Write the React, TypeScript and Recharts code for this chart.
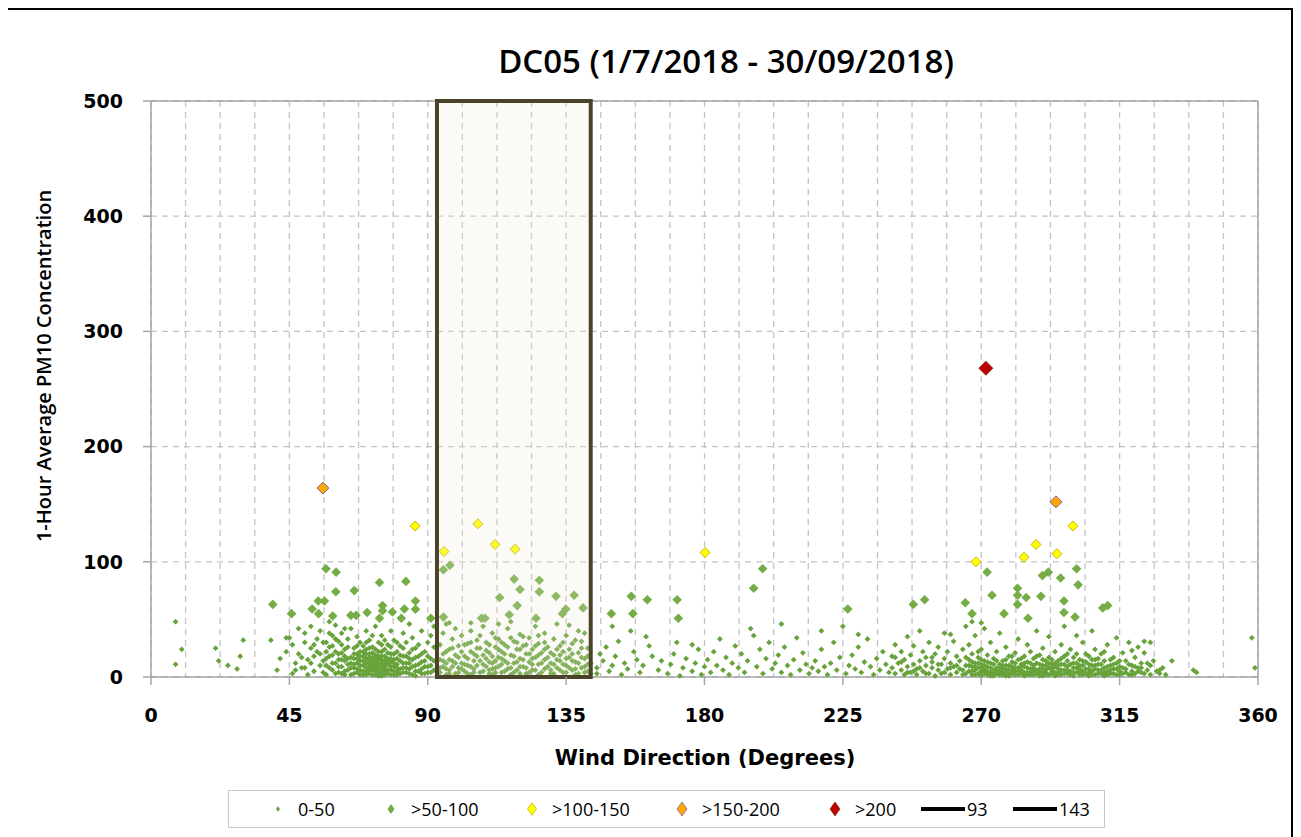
import {
  ScatterChart,
  Scatter,
  XAxis,
  YAxis,
  CartesianGrid,
  ReferenceArea,
  ReferenceLine,
} from "recharts";

// tick values (every 11.25 deg gets a grid line, every 45 deg a label)
const xTicks = [
  0, 11.25, 22.5, 33.75, 45, 56.25, 67.5, 78.75, 90, 101.25, 112.5, 123.75,
  135, 146.25, 157.5, 168.75, 180, 191.25, 202.5, 213.75, 225, 236.25, 247.5,
  258.75, 270, 281.25, 292.5, 303.75, 315, 326.25, 337.5, 348.75, 360,
];
const xLabelled = [0, 45, 90, 135, 180, 225, 270, 315, 360];
const yTicks = [0, 100, 200, 300, 400, 500];
const boxFrom = 93;
const boxTo = 143;

// [wind direction, PM10]
const low = [
  [8, 48], [10, 24], [8, 11], [21, 25], [22, 14], [25, 10], [28, 7], [29, 18], [30, 32], [39, 32], [41, 6], [44, 34], [45, 34], [42, 16], [44, 22],
  [46, 3], [47, 12], [48, 20], [46, 28], [49, 8], [50, 38], [51, 15], [52, 25], [53, 5], [54, 33], [48, 42], [50, 30], [53, 18], [55, 10], [52, 44], [47, 6], [49, 17], [51, 2], [54, 22], [55, 40],
  [56, 4], [56, 14], [57, 22], [57, 30], [58, 8], [58, 18], [59, 27], [59, 36], [60, 3], [60, 12], [60, 45], [61, 20], [61, 9], [62, 15], [62, 28], [62, 38], [63, 5], [63, 24], [64, 11], [64, 33], [65, 2], [65, 17], [65, 42], [58, 48], [61, 31], [63, 14], [64, 6], [57, 10], [59, 19], [62, 3],
  [66, 8], [66, 16], [66, 25], [67, 4], [67, 12], [67, 20], [67, 35], [68, 6], [68, 14], [68, 22], [68, 30], [69, 2], [69, 10], [69, 18], [69, 27], [70, 5], [70, 12], [70, 16], [70, 24], [70, 40], [71, 3], [71, 9], [71, 14], [71, 20], [71, 32], [72, 6], [72, 11], [72, 17], [72, 26], [73, 2], [73, 8], [73, 13], [73, 19], [73, 44], [74, 4], [74, 10], [74, 15], [74, 22], [74, 30], [75, 1], [75, 7], [75, 12], [75, 18], [75, 36], [76, 5], [76, 9], [76, 14], [76, 24], [77, 3], [77, 11], [77, 16], [77, 28], [78, 6], [78, 13], [78, 20], [78, 40], [79, 2], [79, 9], [79, 15], [79, 32], [80, 5], [80, 11], [80, 22],
  [81, 3], [81, 14], [81, 27], [82, 8], [82, 18], [82, 38], [83, 4], [83, 12], [83, 30], [84, 7], [84, 21], [84, 46], [85, 2], [85, 15], [85, 34], [86, 10], [86, 25], [87, 5], [87, 18], [88, 13], [88, 40], [89, 3], [89, 22], [90, 9], [90, 30], [91, 16], [91, 4], [92, 26], [92, 44], [88, 7], [86, 1], [84, 12],
  [57, 2], [57, 16], [58, 26], [59, 6], [59, 12], [60, 22], [61, 4], [61, 15], [62, 9], [62, 21], [63, 2], [63, 18], [64, 16], [64, 26], [65, 8], [65, 12], [66, 3], [66, 11], [66, 20], [67, 7], [67, 16], [67, 27], [68, 2], [68, 10], [68, 18], [69, 5], [69, 14], [69, 22], [70, 2], [70, 8], [70, 20], [70, 30], [71, 6], [71, 11], [71, 17], [71, 25], [72, 2], [72, 8], [72, 14], [72, 21], [72, 36], [73, 5], [73, 10], [73, 16], [73, 24], [74, 1], [74, 7], [74, 12], [74, 18], [75, 4], [75, 9], [75, 15], [75, 22], [75, 28], [76, 2], [76, 7], [76, 11], [76, 18], [76, 32], [77, 6], [77, 13], [77, 21], [78, 2], [78, 9], [78, 16], [78, 26], [79, 5], [79, 12], [79, 20], [80, 2], [80, 8], [80, 16], [80, 30], [81, 7], [81, 19], [82, 4], [82, 12], [82, 25], [83, 8], [83, 18], [84, 3], [84, 16], [85, 9], [85, 24], [86, 5], [86, 17], [87, 11], [87, 28], [88, 3], [88, 20], [89, 9], [89, 14], [90, 4], [90, 18], [91, 10], [91, 36], [92, 6], [92, 14], [50, 8], [52, 12], [53, 28], [55, 20], [56, 30], [58, 38], [60, 33], [63, 42],
  [94, 4], [94, 15], [94, 28], [95, 9], [95, 20], [95, 38], [96, 2], [96, 12], [96, 46], [97, 6], [97, 24], [98, 14], [98, 33], [99, 3], [99, 19], [99, 42], [100, 8], [100, 27], [101, 12], [101, 36], [102, 5], [102, 18], [103, 10], [103, 29], [104, 2], [104, 22], [104, 40], [105, 14], [105, 7], [106, 32], [106, 18], [107, 4], [107, 25], [108, 11], [108, 44], [109, 16], [109, 30], [110, 6], [110, 21], [111, 2], [111, 12], [111, 38], [112, 26], [112, 8], [113, 17], [113, 33], [114, 4], [114, 11], [114, 22], [115, 28], [115, 14], [116, 7], [116, 42], [117, 19], [117, 2], [118, 12], [118, 31], [119, 24], [119, 6], [120, 16], [120, 37], [121, 9], [121, 27], [122, 3], [122, 20], [123, 13], [123, 34], [124, 6], [124, 24], [125, 17], [125, 44], [126, 2], [126, 11], [126, 29], [127, 21], [128, 7], [128, 15], [128, 38], [129, 26], [130, 3], [130, 12], [131, 19], [131, 33], [132, 8], [132, 46], [133, 14], [133, 27], [134, 4], [134, 22], [135, 10], [135, 36], [136, 17], [137, 6], [137, 29], [138, 2], [138, 13], [139, 21], [139, 40], [140, 8], [140, 31], [141, 16], [141, 4], [142, 25], [142, 11], [136, 45], [117, 48], [104, 47], [97, 47], [113, 46],
  [94, 8], [95, 14], [96, 7], [96, 22], [97, 3], [97, 15], [98, 9], [98, 25], [99, 12], [100, 4], [100, 17], [101, 7], [101, 22], [102, 11], [102, 28], [103, 3], [103, 16], [104, 9], [104, 30], [105, 4], [105, 20], [106, 10], [106, 25], [107, 14], [107, 36], [108, 5], [108, 19], [109, 9], [109, 23], [110, 3], [110, 13], [110, 28], [111, 7], [111, 18], [112, 4], [112, 14], [112, 34], [113, 9], [113, 24], [114, 16], [114, 30], [115, 5], [115, 20], [116, 12], [116, 26], [117, 8], [117, 34], [118, 4], [118, 18], [119, 13], [119, 30], [120, 3], [120, 9], [120, 24], [121, 15], [121, 35], [122, 8], [122, 28], [123, 4], [123, 20], [124, 11], [124, 16], [125, 6], [125, 27], [126, 19], [126, 36], [127, 4], [127, 12], [128, 24], [128, 30], [129, 9], [129, 17], [130, 6], [130, 21], [131, 3], [131, 11], [132, 15], [132, 24], [133, 6], [133, 19], [134, 11], [134, 30], [135, 4], [135, 16], [136, 8], [136, 24], [137, 14], [137, 20], [138, 7], [138, 32], [139, 3], [139, 12], [140, 17], [140, 25], [141, 9], [141, 38], [142, 5], [142, 18], [143, 12], [143, 3],
  [145, 8], [145, 3], [146, 20], [147, 14], [148, 26], [149, 5], [150, 10], [151, 18], [152, 31], [153, 2], [154, 12], [155, 7], [156, 40], [157, 22], [158, 15], [159, 4], [160, 10], [162, 27], [163, 18], [165, 6], [166, 14], [168, 3], [169, 11], [170, 20], [171, 30], [173, 8], [174, 16], [176, 5], [177, 12], [178, 24], [179, 2], [180, 9], [176, 28], [161, 35], [150, 44], [172, 1],
  [181, 15], [182, 4], [183, 22], [184, 10], [185, 33], [186, 6], [187, 17], [188, 2], [189, 12], [190, 27], [191, 8], [192, 20], [193, 4], [194, 14], [195, 42], [196, 36], [197, 9], [198, 24], [199, 3], [200, 16], [201, 30], [202, 7], [203, 12], [204, 19], [205, 4], [206, 26], [207, 10], [208, 2], [209, 15], [210, 34], [211, 6], [212, 21], [213, 11], [214, 3], [215, 8], [216, 14], [217, 5], [218, 24], [219, 9], [220, 2], [221, 12], [222, 30], [223, 6], [224, 17], [225, 44], [226, 3], [227, 10], [228, 19], [229, 7], [230, 26], [231, 4], [232, 13], [233, 33], [234, 9], [235, 2], [236, 16], [237, 6], [238, 22], [239, 11], [240, 4], [218, 40], [205, 46], [230, 37],
  [241, 8], [241, 18], [242, 3], [242, 28], [243, 12], [244, 6], [244, 22], [245, 2], [245, 15], [246, 9], [246, 35], [247, 4], [247, 19], [248, 11], [248, 27], [249, 7], [249, 2], [250, 14], [250, 40], [251, 5], [251, 22], [252, 10], [252, 17], [253, 3], [253, 30], [254, 8], [254, 13], [255, 20], [255, 1], [256, 6], [256, 26], [257, 11], [257, 3], [258, 16], [258, 38], [259, 7], [259, 22], [260, 2], [260, 12], [261, 9], [261, 31], [262, 4], [262, 18], [263, 14], [263, 7], [264, 24], [264, 2], [265, 10], [265, 44], [260, 37], [267, 48], [270, 47],
  [266, 5], [266, 15], [266, 28], [267, 2], [267, 9], [267, 20], [268, 6], [268, 12], [268, 36], [269, 3], [269, 8], [269, 17], [270, 1], [270, 5], [270, 11], [270, 24], [271, 3], [271, 7], [271, 14], [271, 42], [272, 2], [272, 9], [272, 19], [273, 4], [273, 12], [273, 30], [274, 1], [274, 6], [274, 16], [275, 3], [275, 8], [275, 22], [276, 5], [276, 11], [276, 38], [277, 2], [277, 7], [277, 14], [278, 4], [278, 10], [278, 26], [279, 1], [279, 6], [279, 18], [280, 3], [280, 9], [280, 13], [281, 5], [281, 21], [281, 2], [282, 8], [282, 15], [282, 33], [283, 3], [283, 11], [283, 6], [284, 1], [284, 18], [284, 9], [285, 4], [285, 13], [285, 28], [286, 7], [286, 2], [286, 22], [287, 10], [287, 5], [287, 16], [288, 3], [288, 12], [288, 40], [289, 7], [289, 1], [289, 19], [290, 4], [290, 10], [290, 25], [291, 2], [291, 14], [291, 6], [292, 8], [292, 17], [292, 35], [293, 3], [293, 11], [293, 5], [294, 1], [294, 9], [294, 22], [295, 4], [295, 14], [295, 7],
  [296, 2], [296, 11], [296, 28], [297, 6], [297, 18], [297, 44], [298, 3], [298, 9], [298, 14], [299, 5], [299, 24], [300, 1], [300, 8], [300, 12], [301, 4], [301, 20], [301, 36], [302, 7], [302, 2], [302, 15], [303, 10], [303, 5], [303, 30], [304, 3], [304, 13], [305, 7], [305, 18], [305, 1], [306, 5], [306, 10], [306, 40], [307, 2], [307, 15], [307, 24], [308, 6], [308, 11], [309, 3], [309, 20], [310, 8], [310, 1], [310, 14], [311, 5], [311, 28], [312, 10], [312, 3], [313, 7], [313, 17], [314, 2], [314, 12], [314, 34], [315, 5], [315, 9], [316, 3], [316, 21], [317, 7], [317, 14], [318, 2], [318, 30], [319, 10], [319, 5], [320, 17], [320, 3], [321, 8], [321, 26], [322, 4], [322, 12], [323, 21], [324, 6], [325, 2], [325, 10], [326, 14], [327, 5], [328, 3], [329, 8], [330, 2],
  [262, 10], [264, 6], [265, 3], [265, 17], [266, 10], [267, 5], [267, 13], [268, 2], [268, 9], [269, 12], [269, 22], [270, 8], [270, 15], [271, 5], [271, 10], [272, 5], [272, 13], [273, 1], [273, 8], [274, 3], [274, 11], [275, 5], [275, 14], [276, 2], [276, 8], [277, 4], [277, 10], [278, 1], [278, 7], [278, 15], [279, 3], [279, 10], [280, 6], [280, 18], [281, 8], [281, 12], [282, 2], [282, 5], [283, 9], [283, 16], [284, 4], [284, 12], [285, 2], [285, 8], [286, 4], [286, 12], [287, 2], [287, 8], [288, 6], [288, 18], [289, 4], [289, 11], [290, 1], [290, 7], [290, 15], [291, 4], [291, 10], [292, 2], [292, 12], [293, 7], [293, 15], [294, 4], [294, 12], [295, 2], [295, 10], [296, 6], [296, 16], [297, 3], [297, 11], [298, 6], [298, 20], [299, 2], [299, 11], [300, 4], [300, 17], [301, 8], [301, 12], [302, 5], [302, 10], [303, 2], [303, 14], [304, 7], [304, 20], [305, 4], [305, 11], [306, 2], [306, 15], [307, 7], [307, 10], [308, 3], [308, 16], [309, 6], [309, 11], [310, 4], [310, 22], [311, 2], [311, 9], [312, 6], [312, 15], [313, 3], [313, 11], [314, 7], [315, 2], [315, 14], [316, 8], [317, 4], [318, 11], [319, 2], [320, 9], [321, 5], [322, 8], [323, 3], [324, 12], [248, 5], [250, 8], [252, 3], [254, 17], [256, 11], [258, 4], [260, 8], [244, 13], [246, 4], [242, 17],
  [332, 14], [339, 6], [340, 4], [358, 34], [359, 8], [325, 30], [323, 31], [319, 23], [328, 6],
];

const mid = [
  [56.9, 94], [60.2, 91], [74.3, 82], [82.9, 83], [60.1, 74], [66.1, 75], [39.6, 63], [54.4, 66], [56.4, 66], [52.4, 59], [54.5, 55], [45.7, 55], [59.1, 53], [65, 53.5], [66.7, 53.5], [70.3, 56], [75.3, 62], [75.3, 57.6], [78.5, 56.4], [74.3, 51], [81.4, 51], [82.4, 59], [86, 66], [86, 58.8], [91, 51],
  [95.1, 93], [97.2, 97], [118.1, 85], [120, 76], [126.3, 84], [126.3, 74], [113.4, 69], [119.1, 62], [116.5, 54], [131.7, 70], [137.6, 71], [134.9, 59], [133.8, 55], [140.5, 60], [95.1, 52], [107.5, 51], [108.6, 51], [125.2, 51],
  [156.2, 70], [161.4, 67], [171.1, 67], [149.7, 55], [156.7, 55], [171.5, 51],
  [198.9, 94], [196, 77], [226.6, 59], [247.9, 63], [251.6, 67], [264.8, 64.5], [267, 55], [271.9, 91], [273.5, 71], [277.4, 55], [281.8, 77], [281.8, 71], [281.8, 63], [284.6, 69], [285.2, 51], [289.4, 70], [289.9, 88], [291.8, 91], [295.8, 86], [301, 94], [301.5, 80], [296.9, 66], [296.9, 56], [300.5, 52], [309.5, 60], [311.1, 62],
];

const high = [
  [85.9, 131], [95.3, 109], [106.3, 133], [111.9, 115], [118.4, 111], [180.2, 108], [268.3, 100], [283.9, 104], [287.8, 115], [294.6, 107], [299.8, 131],
];

const veryHigh = [
  [55.9, 164], [294.3, 152],
];

const extreme = [
  [271.5, 268],
];

const toPts = (arr: number[][]) => arr.map(([x, y]) => ({ x, y }));

const diamond =
  (r: number, fill: string, stroke?: string, sw = 0) =>
  (props: any) => {
    const { cx, cy } = props;
    if (cx == null || cy == null) return <g />;
    return (
      <polygon
        points={`${cx},${cy - r} ${cx + r},${cy} ${cx},${cy + r} ${cx - r},${cy}`}
        fill={fill}
        stroke={stroke || "none"}
        strokeWidth={sw}
      />
    );
  };

const tickFont = {
  fontFamily: "DejaVu Sans",
  fontWeight: 700,
  fontSize: 19,
};

// label + tick mark only every 45 deg; the rest of the ticks feed the grid
const XTick = (props: any) => {
  const { x, y, payload } = props;
  if (!xLabelled.includes(payload.value)) return <g />;
  const axisY = y - 32;
  return (
    <g>
      <line x1={x} x2={x} y1={axisY} y2={axisY + 8} stroke="#a6a6a6" strokeWidth={1.5} />
      <text x={x} y={y} dy="0.71em" textAnchor="middle" fill="#000" style={tickFont}>
        {payload.value}
      </text>
    </g>
  );
};

const legendItems = [
  { label: "0-50", x: 272, kind: "d", r: 2, fill: "#67a33a" },
  { label: ">50-100", x: 385, kind: "d", r: 3.5, fill: "#74ad45" },
  { label: ">100-150", x: 526, kind: "d", r: 4.5, fill: "#ffff00", stroke: "#c9b600" },
  { label: ">150-200", x: 676, kind: "d", r: 5, fill: "#ffa800", stroke: "#8064a2" },
  { label: ">200", x: 829, kind: "d", r: 5, fill: "#c00000", stroke: "#8b3a1a" },
  { label: "93", x: 921, kind: "l" },
  { label: "143", x: 1013, kind: "l" },
];

export default function App() {
  return (
    <div
      style={{
        position: "relative",
        marginLeft: -5,
        width: 1290,
        height: 840,
        border: "2px solid #000",
        boxSizing: "border-box",
        background: "#fff",
      }}
    >
      <ScatterChart
        width={1286}
        height={820}
        margin={{ top: 91, right: 33, bottom: 93, left: 0 }}
      >
        <CartesianGrid
          stroke="#c4c4c4"
          strokeDasharray="6 5"
          strokeWidth={1.3}
        />
        <XAxis
          type="number"
          dataKey="x"
          domain={[0, 360]}
          ticks={xTicks}
          interval={0}
          height={60}
          tickSize={8}
          tickMargin={24}
          axisLine={{ stroke: "#a6a6a6", strokeWidth: 1.5 }}
          tickLine={false}
          tick={<XTick />}
        />
        <YAxis
          type="number"
          dataKey="y"
          domain={[0, 500]}
          ticks={yTicks}
          interval={0}
          width={146}
          tickSize={8}
          tickMargin={20}
          axisLine={{ stroke: "#a6a6a6", strokeWidth: 1.5 }}
          tickLine={{ stroke: "#a6a6a6", strokeWidth: 1.5 }}
          tick={{ ...tickFont, fill: "#000" }}
        />
        <ReferenceLine y={500} stroke="#a6a6a6" strokeWidth={1.5} />
        <ReferenceLine x={360} stroke="#a6a6a6" strokeWidth={1.5} />
        <Scatter
          name="0-50"
          data={toPts(low)}
          shape={diamond(2.9, "#67a33a")}
          isAnimationActive={false}
        />
        <Scatter
          name=">50-100"
          data={toPts(mid)}
          shape={diamond(4.8, "#74ad45")}
          isAnimationActive={false}
        />
        <Scatter
          name=">100-150"
          data={toPts(high)}
          shape={diamond(5, "#ffff00", "#c9b600", 1)}
          isAnimationActive={false}
        />
        <Scatter
          name=">150-200"
          data={toPts(veryHigh)}
          shape={diamond(6, "#ffa800", "#8064a2", 1)}
          isAnimationActive={false}
        />
        <Scatter
          name=">200"
          data={toPts(extreme)}
          shape={diamond(7, "#c00000", "#8b3a1a", 1)}
          isAnimationActive={false}
        />
        <ReferenceArea
          x1={boxFrom}
          x2={boxTo}
          y1={0}
          y2={500}
          fill="#ede8dc"
          fillOpacity={0.22}
          stroke="#4a4329"
          strokeWidth={4}
          zIndex={700}
        />
      </ScatterChart>

      <div
        style={{
          position: "absolute",
          left: 721,
          top: 50,
          transform: "translate(-50%, -50%)",
          fontFamily: "Open Sans",
          fontWeight: 600,
          fontSize: 33,
          whiteSpace: "nowrap",
          color: "#000",
        }}
      >
        DC05 (1/7/2018 - 30/09/2018)
      </div>

      <div
        style={{
          position: "absolute",
          left: 38,
          top: 356,
          transform: "translate(-50%, -50%) rotate(-90deg)",
          fontFamily: "Open Sans",
          fontWeight: 600,
          fontSize: 20,
          whiteSpace: "nowrap",
          color: "#000",
        }}
      >
        1-Hour Average PM10 Concentration
      </div>

      <div
        style={{
          position: "absolute",
          left: 700,
          top: 748,
          transform: "translate(-50%, -50%)",
          fontFamily: "DejaVu Sans",
          fontWeight: 700,
          fontSize: 21,
          whiteSpace: "nowrap",
          color: "#000",
        }}
      >
        Wind Direction (Degrees)
      </div>

      <div
        style={{
          position: "absolute",
          left: 223,
          top: 780,
          width: 877,
          height: 38,
          border: "1px solid #c8c8c8",
          boxSizing: "border-box",
        }}
      />
      {legendItems.map((it) => (
        <div
          key={it.label}
          style={{
            position: "absolute",
            left: it.x - 5,
            top: 799,
            transform: "translateY(-50%)",
            display: "flex",
            alignItems: "center",
            fontFamily: "Open Sans",
            fontSize: 18,
            whiteSpace: "nowrap",
            color: "#000",
          }}
        >
          {it.kind === "d" ? (
            <svg width={12} height={14} style={{ marginRight: 14 }}>
              <polygon
                points={`6,${7 - (it.r as number) * 1.4} ${6 + (it.r as number)},7 6,${7 + (it.r as number) * 1.4} ${6 - (it.r as number)},7`}
                fill={it.fill}
                stroke={it.stroke || "none"}
                strokeWidth={0.8}
              />
            </svg>
          ) : (
            <svg width={44} height={8} style={{ marginRight: 2 }}>
              <line x1={0} y1={4} x2={44} y2={4} stroke="#000" strokeWidth={4} />
            </svg>
          )}
          <span>{it.label}</span>
        </div>
      ))}
    </div>
  );
}
